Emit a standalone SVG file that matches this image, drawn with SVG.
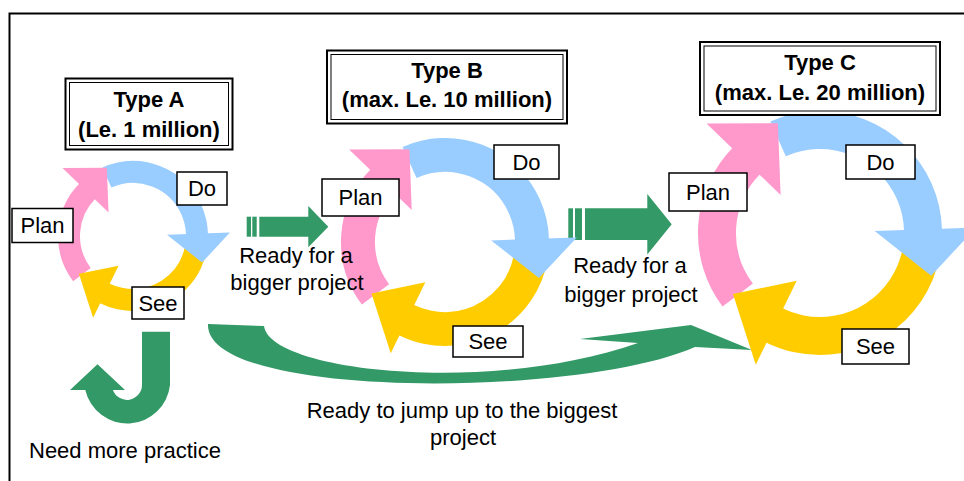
<svg xmlns="http://www.w3.org/2000/svg" width="964" height="481" viewBox="0 0 964 481">
  <style>
    .frame { fill: none; stroke: #000; stroke-width: 2; }
    .box { fill: #fff; stroke: #000; stroke-width: 1.5; }
    .tbox-out { fill: #fff; stroke: #000; stroke-width: 2; }
    .tbox-in { fill: none; stroke: #000; stroke-width: 1; }
    text { font-family: "Liberation Sans", Arial, sans-serif; fill: #000; text-anchor: middle; }
    .lbl { font-size: 22px; }
    .ttl { font-size: 22px; font-weight: bold; }
    .note { font-size: 22px; }
    .green { fill: #339966; }
    .ring { fill: none; }
    .pink { stroke: #ff99cc; }
    .blue { stroke: #99ccff; }
    .yellow { stroke: #ffcc00; }
    .pinkf { fill: #ff99cc; }
    .bluef { fill: #99ccff; }
    .yellowf { fill: #ffcc00; }
  </style>
  <defs>
    <!-- one Plan-Do-See cycle, drawn around (0,0) at unit scale -->
    <g id="pds-shafts">
      <circle class="ring pink" r="64" stroke-dasharray="91 400" transform="rotate(143)"/>
      <circle class="ring blue" r="64" stroke-dasharray="125.7 400" transform="rotate(246)"/>
      <circle class="ring yellow" r="64" stroke-dasharray="116.7 400" transform="rotate(12)"/>
    </g>
    <g id="pds-heads">
      <polygon class="pinkf" points="34,0 98,0 66.2,30.9" transform="rotate(224)"/>
      <polygon class="bluef" points="34,0 97,0 68.1,28.9" transform="rotate(358)"/>
      <polygon class="yellowf" points="33,0 91,0 57.7,32" transform="rotate(116)"/>
    </g>
  </defs>

  <!-- outer frame -->
  <path class="frame" d="M9.5,482 V13.5 H966"/>

  <!-- connectors -->
  <g id="connectors">
    <!-- A to B -->
    <g id="arrow-a-b" class="green">
      <rect x="246.7" y="216.7" width="4.3" height="20"/>
      <rect x="252.3" y="216.7" width="4.4" height="20"/>
      <polygon points="259.3,216.7 308.3,216.7 308.3,206 328.3,226.7 308.3,247.3 308.3,236.7 259.3,236.7"/>
    </g>
    <!-- B to C -->
    <g id="arrow-b-c" class="green">
      <rect x="568.3" y="208.3" width="4.7" height="31.7"/>
      <rect x="575" y="208.3" width="7" height="31.7"/>
      <polygon points="585,208.3 647.3,208.3 647.3,194 671.7,224.2 647.3,254.5 647.3,240 585,240"/>
    </g>
    <!-- A straight to C -->
    <path id="arrow-a-c" class="green" d="M208,324 L264,326 C270,372 490,395 638,343 L580,339 L691,325 L752,350 L695,347 C580,398 205,400 208,324 Z"/>
    <!-- A back to A -->
    <path id="arrow-a-a" class="green" d="M142,331.7 L170,331.7 L170,385 A43,43 0 0 1 85.3,390 L70,390 L97.5,364.3 L125,390 L112.9,390 A15,15 0 0 0 142,385 Z"/>
  </g>

  <!-- cycle A -->
  <g id="cycle-a" transform="translate(133,236)" style="stroke-width:22">
    <use href="#pds-shafts"/>
    <use href="#pds-heads"/>
  </g>
  <!-- cycle B -->
  <g id="cycle-b" transform="translate(445,242) scale(1.36)" style="stroke-width:25">
    <use href="#pds-shafts"/>
    <use href="#pds-heads"/>
  </g>
  <!-- cycle C -->
  <g id="cycle-c" transform="translate(820,233) scale(1.61)" style="stroke-width:23.6">
    <use href="#pds-shafts"/>
    <use href="#pds-heads"/>
  </g>

  <!-- connector captions -->
  <g id="captions">
    <text class="note" x="296" y="263">Ready for a</text>
    <text class="note" x="297" y="290">bigger project</text>
    <text class="note" x="630" y="273">Ready for a</text>
    <text class="note" x="631" y="301.5">bigger project</text>
    <text class="note" x="462" y="418">Ready to jump up to the biggest</text>
    <text class="note" x="463" y="445">project</text>
    <text class="note" x="125" y="458">Need more practice</text>
  </g>

  <!-- titles -->
  <g id="title-a">
    <rect class="tbox-out" x="65.5" y="78.5" width="167" height="71"/>
    <rect class="tbox-in" x="69.5" y="82.5" width="159" height="63"/>
    <text class="ttl" x="149" y="106.5">Type A</text>
    <text class="ttl" x="149" y="136.5">(Le. 1 million)</text>
  </g>
  <g id="title-b">
    <rect class="tbox-out" x="327" y="50.5" width="240" height="73"/>
    <rect class="tbox-in" x="331" y="54.5" width="232" height="65"/>
    <text class="ttl" x="447" y="77.5">Type B</text>
    <text class="ttl" x="447" y="106.5">(max. Le. 10 million)</text>
  </g>
  <g id="title-c">
    <rect class="tbox-out" x="700" y="42" width="240" height="73"/>
    <rect class="tbox-in" x="704" y="46" width="232" height="65"/>
    <text class="ttl" x="820" y="69.5">Type C</text>
    <text class="ttl" x="820" y="99.5">(max. Le. 20 million)</text>
  </g>

  <!-- step labels -->
  <g id="plan-a"><rect class="box" x="12" y="208.5" width="61" height="34"/><text class="lbl" x="42.5" y="233.4">Plan</text></g>
  <g id="do-a"><rect class="box" x="177" y="172" width="50" height="33"/><text class="lbl" x="202" y="196.4">Do</text></g>
  <g id="see-a"><rect class="box" x="132" y="287" width="52" height="32"/><text class="lbl" x="158" y="310.9">See</text></g>

  <g id="plan-b"><rect class="box" x="322" y="179" width="77" height="37"/><text class="lbl" x="360.5" y="205.4">Plan</text></g>
  <g id="do-b"><rect class="box" x="494" y="145" width="65" height="34"/><text class="lbl" x="526.5" y="169.9">Do</text></g>
  <g id="see-b"><rect class="box" x="453" y="326" width="70" height="31"/><text class="lbl" x="488" y="349.4">See</text></g>

  <g id="plan-c"><rect class="box" x="669" y="173" width="78" height="38"/><text class="lbl" x="708" y="199.9">Plan</text></g>
  <g id="do-c"><rect class="box" x="846" y="145" width="69" height="34"/><text class="lbl" x="880.5" y="169.9">Do</text></g>
  <g id="see-c"><rect class="box" x="842" y="329" width="67" height="35"/><text class="lbl" x="875.5" y="354.4">See</text></g>
</svg>
